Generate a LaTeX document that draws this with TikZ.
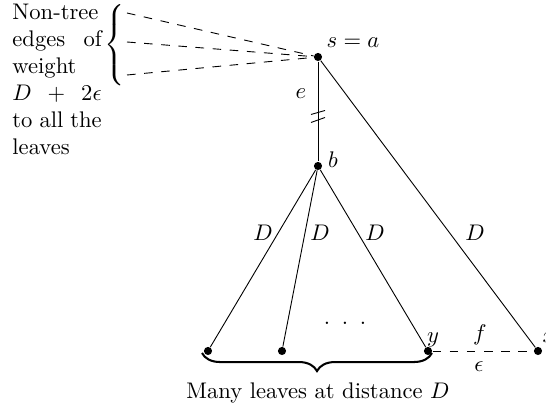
\documentclass[tikz,border=0pt]{standalone}
\usetikzlibrary{decorations.pathreplacing}
\tikzset{
  dot/.style={circle,fill,inner sep=0pt,minimum size=3.6pt},
  lbl/.style={inner sep=0pt},
  dsh/.style={dash pattern=on 3.8pt off 3.8pt},
  bracedeco/.style={decorate,decoration={brace,mirror,amplitude=8pt},line width=0.9pt}
}
\begin{document}
\begin{tikzpicture}[x=0.4425pt,y=-0.4425pt]
\useasboundingbox (0,0) rectangle (546,405);
% vertices
\node[dot] (s) at (318,57) {};
\node[dot] (b) at (318,166) {};
\node[dot] (l1) at (208,351) {};
\node[dot] (l2) at (282,351) {};
\node[dot] (y) at (428,351) {};
\node[dot] (x) at (538,351) {};
% tree edges
\draw (s) -- (b) coordinate[pos=0.55] (m);
\draw ([shift={(-7,-2)}]m) -- ([shift={(7,-6)}]m);
\draw ([shift={(-7,6)}]m) -- ([shift={(7,1)}]m);
\draw (b) -- (l1);
\draw (b) -- (l2);
\draw (b) -- (y);
\draw (s) -- (x);
\draw[dsh] (y) -- (x);
% non-tree edges
\coordinate (d1) at (127,13);
\coordinate (d2) at (127,42);
\coordinate (d3) at (127,75);
\draw[dsh] (d1) -- (s);
\draw[dsh] (d2) -- (s);
\draw[dsh] (d3) -- (s);
% labels
\node[lbl] (sl) at (353,43) {$s=a$};
\node[lbl] (bl) at (333,160) {$b$};
\node[lbl] (el) at (301,94) {$e$};
\node[lbl] (yl) at (433,340) {$y$};
\node[lbl] (xl) at (549,338) {$x$};
\node[lbl] (fl) at (480,335) {$f$};
\node[lbl] (epl) at (479,367) {$\epsilon$};
\node[lbl] (D1) at (263,233) {$D$};
\node[lbl] (D2) at (320,233) {$D$};
\node[lbl] (D3) at (375,233) {$D$};
\node[lbl] (D4) at (475,233) {$D$};
\node[lbl] (dots) at (345,323) {.\hspace{5.2pt}.\hspace{5.2pt}.};
% left text and brace
\node[lbl,text width=39.5pt,align=justify,anchor=north west] (txt) at (12,3.2)
  {Non-tree edges of weight $D+2\epsilon$ to all the leaves};
\node[lbl] (lbr) at (116,47) {$\left\{\vrule height 17pt depth 17pt width 0pt\right.$};
% bottom brace
\coordinate (bA) at (202,353);
\coordinate (bB) at (432,353);
\draw[bracedeco] (bA) -- (bB);
\node[lbl,anchor=base] (many) at (318,399) {Many leaves at distance $D$};
\end{tikzpicture}
\end{document}
